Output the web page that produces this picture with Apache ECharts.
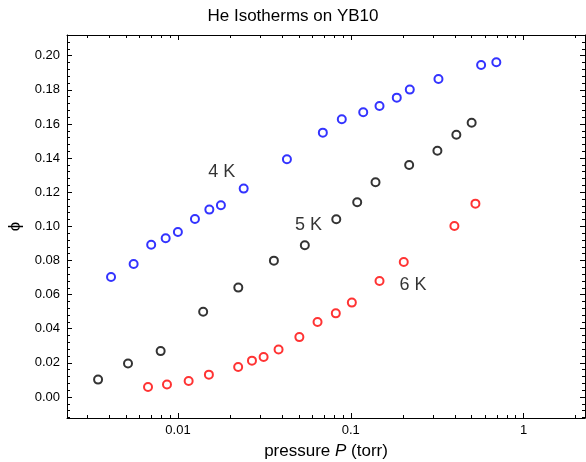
<!DOCTYPE html>
<html>
<head>
<meta charset="utf-8">
<script src="https://cdn.jsdelivr.net/npm/echarts@6/dist/echarts.min.js"></script>
<style>
  html, body { margin: 0; padding: 0; background: #fff; }
  #chart { width: 586px; height: 462px; }
</style>
</head>
<body>
<div id="chart"></div>
<script>
// pressure P in torr, phi
var p4K = [0.0041, 0.00554, 0.0070, 0.00849, 0.00999, 0.01254, 0.01519, 0.01772, 0.0240, 0.0427,
           0.0689, 0.0887, 0.118, 0.1466, 0.1845, 0.2194, 0.3215, 0.5675, 0.695];
var phi4K = [0.0703, 0.0779, 0.0892, 0.0930, 0.0967, 0.1043, 0.1098, 0.1123, 0.1221, 0.1393,
             0.1549, 0.1627, 0.1668, 0.1705, 0.1754, 0.1801, 0.1863, 0.1945, 0.1961];

var p5K = [0.00345, 0.00514, 0.00794, 0.01399, 0.02234, 0.0359, 0.0542, 0.0824, 0.1089, 0.139,
           0.2176, 0.317, 0.408, 0.5003];
var phi5K = [0.0102, 0.0196, 0.0269, 0.0499, 0.0641, 0.0799, 0.0889, 0.1041, 0.1141, 0.1258,
             0.1359, 0.1443, 0.1537, 0.1607];

var p6K = [0.00671, 0.00864, 0.01153, 0.0151, 0.0223, 0.0268, 0.0313, 0.0382, 0.0504, 0.0642,
           0.0819, 0.1014, 0.1466, 0.2025, 0.3975, 0.526];
var phi6K = [0.0059, 0.0073, 0.0094, 0.0131, 0.0176, 0.0213, 0.0234, 0.0278, 0.0351, 0.0439,
             0.0490, 0.0553, 0.0680, 0.0791, 0.1002, 0.1133];

// curve labels, placed in data space
var annoText = ['4 K', '5 K', '6 K'];
var annoP = [0.0179, 0.0569, 0.2290];
var annoPhi = [0.1320, 0.1005, 0.0655];

var xMajor = [0.01, 0.1, 1];
var xTickLabels = ['0.01', '0.1', '1'];
var yMajor = [0, 0.02, 0.04, 0.06, 0.08, 0.10, 0.12, 0.14, 0.16, 0.18, 0.20];
var yTickLabels = ['0.00', '0.02', '0.04', '0.06', '0.08', '0.10', '0.12', '0.14', '0.16', '0.18', '0.20'];

var xMin = -2.642, xMax = 0.355;   // log10(P)
var yMin = -0.0123, yMax = 0.2121;

var xMajorLog = xMajor.map(Math.log10);
var xMinorLog = [];
[0.001, 0.01, 0.1, 1].forEach(function (d) {
  for (var k = 2; k <= 9; k++) {
    var v = Math.log10(k * d);
    if (v > xMin && v < xMax) xMinorLog.push(v);
  }
});
var yMinor = [];
for (var i = -3; i <= 53; i++) {
  var v = Math.round(i * 0.004 * 1e6) / 1e6;
  if (v > yMin && v < yMax) yMinor.push(v);
}

var font = 'Liberation Sans, Arial, sans-serif';

function pts(p, phi) {
  return p.map(function (x, i) { return [Math.log10(x), phi[i]]; });
}

function xAxisDef(pos, ticks, len, main) {
  return {
    type: 'value', position: pos, min: xMin, max: xMax,
    splitLine: { show: false },
    axisLine: { show: main, onZero: false, lineStyle: { color: '#000', width: 1 } },
    axisTick: { show: true, inside: true, length: len, customValues: ticks,
                lineStyle: { color: '#000', width: 1 } },
    axisLabel: main && pos === 'bottom' ? {
      show: true, customValues: xMajorLog, margin: 6, color: '#000', fontSize: 13, fontFamily: font,
      formatter: function (v) {
        for (var j = 0; j < xMajorLog.length; j++) if (Math.abs(v - xMajorLog[j]) < 1e-6) return xTickLabels[j];
        return '';
      }
    } : { show: false }
  };
}

function yAxisDef(pos, ticks, len, main) {
  return {
    type: 'value', position: pos, min: yMin, max: yMax,
    splitLine: { show: false },
    axisLine: { show: main, onZero: false, lineStyle: { color: '#000', width: 1 } },
    axisTick: { show: true, inside: true, length: len, customValues: ticks,
                lineStyle: { color: '#000', width: 1 } },
    axisLabel: main && pos === 'left' ? {
      show: true, customValues: yMajor, margin: 7, color: '#000', fontSize: 13, fontFamily: font,
      formatter: function (v) {
        for (var j = 0; j < yMajor.length; j++) if (Math.abs(v - yMajor[j]) < 1e-6) return yTickLabels[j];
        return '';
      }
    } : { show: false }
  };
}

var xAxes = [
  xAxisDef('bottom', xMajorLog, 5, true),
  xAxisDef('bottom', xMinorLog, 3, false),
  xAxisDef('top', xMajorLog, 5, true),
  xAxisDef('top', xMinorLog, 3, false)
];
xAxes[0].name = '{n|pressure }{i|P}{n| (torr)}';
xAxes[0].nameLocation = 'middle';
xAxes[0].nameGap = 25;
xAxes[0].nameTextStyle = {
  rich: {
    n: { fontSize: 17, fontFamily: font, color: '#000' },
    i: { fontSize: 17, fontFamily: font, color: '#000', fontStyle: 'italic' }
  }
};

var yAxes = [
  yAxisDef('left', yMajor, 5, true),
  yAxisDef('left', yMinor, 3, false),
  yAxisDef('right', yMajor, 5, true),
  yAxisDef('right', yMinor, 3, false)
];
yAxes[0].name = '\u03d5';
yAxes[0].nameLocation = 'middle';
yAxes[0].nameGap = 43;
yAxes[0].nameTextStyle = { fontSize: 17, fontFamily: font, color: '#000' };

function isoSeries(name, p, phi, color) {
  return {
    name: name, type: 'scatter', xAxisIndex: 0, yAxisIndex: 0,
    symbol: 'emptyCircle', symbolSize: 8,
    itemStyle: { color: color, borderWidth: 1.3 },
    data: pts(p, phi)
  };
}

var chart = echarts.init(document.getElementById('chart'), null, { renderer: 'canvas' });
chart.setOption({
  animation: false,
  backgroundColor: '#fff',
  title: {
    text: 'He Isotherms on YB10', left: 'center', top: 3,
    textStyle: { fontSize: 17, fontWeight: 'normal', fontFamily: font, color: '#000' }
  },
  grid: { left: 67, right: 1, top: 35, bottom: 44, containLabel: false, outerBoundsMode: 'none' },
  xAxis: xAxes,
  yAxis: yAxes,
  series: [
    isoSeries('4 K', p4K, phi4K, '#0000ff'),
    isoSeries('5 K', p5K, phi5K, '#000000'),
    isoSeries('6 K', p6K, phi6K, '#ff0000'),
    {
      type: 'scatter', xAxisIndex: 0, yAxisIndex: 0,
      symbolSize: 1, itemStyle: { color: 'rgba(0,0,0,0)' },
      label: { show: true, position: 'inside', formatter: '{b}', fontSize: 18, fontFamily: font, color: '#000' },
      data: annoText.map(function (t, j) {
        return { name: t, value: [Math.log10(annoP[j]), annoPhi[j]] };
      })
    }
  ]
});
</script>
</body>
</html>
